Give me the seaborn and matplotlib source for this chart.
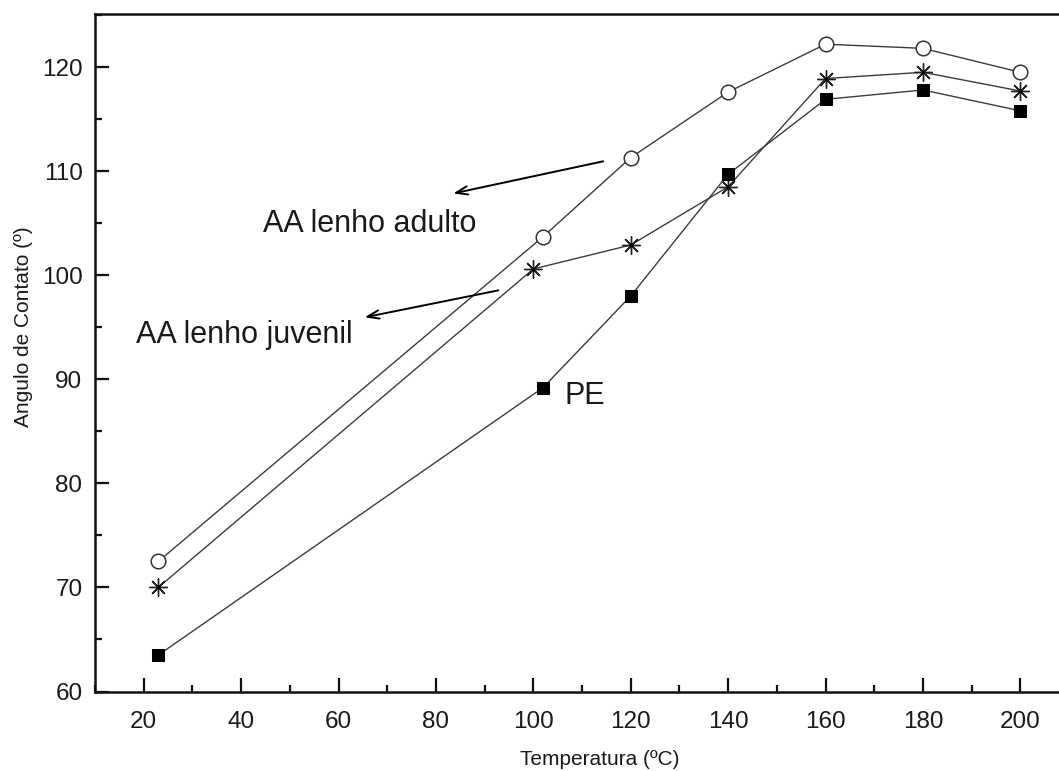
import matplotlib
matplotlib.use("Agg")
import matplotlib.pyplot as plt
from matplotlib.ticker import MultipleLocator
import seaborn as sns

# ---- data ----
temp_adulto = [23, 102, 120, 140, 160, 180, 200]
ang_adulto = [72.5, 103.7, 111.3, 117.6, 122.2, 121.8, 119.5]

temp_juvenil = [23, 100, 120, 140, 160, 180, 200]
ang_juvenil = [70.0, 100.6, 102.9, 108.5, 118.9, 119.5, 117.7]

temp_pe = [23, 102, 120, 140, 160, 180, 200]
ang_pe = [63.5, 89.2, 98.0, 109.7, 116.9, 117.8, 115.8]

x_ticks = [20, 40, 60, 80, 100, 120, 140, 160, 180, 200]
y_ticks = [60, 70, 80, 90, 100, 110, 120]

label_adulto = "AA lenho adulto"
label_juvenil = "AA lenho juvenil"
label_pe = "PE"
xlabel = "Temperatura (ºC)"
ylabel = "Angulo de Contato (º)"

sns.set_theme(style="ticks")
plt.rcParams["font.family"] = ["Liberation Sans", "DejaVu Sans"]

W, H = 1059, 771
fig = plt.figure(figsize=(W / 100, H / 100), dpi=100)
ax_left, ax_right, ax_top, ax_bottom = 95, 1070, 14, 691.5
ax = fig.add_axes([ax_left / W, (H - ax_bottom) / H,
                   (ax_right - ax_left) / W, (ax_bottom - ax_top) / H])

line_col = "#3c3c3c"
lw = 1.0

sns.lineplot(x=temp_adulto, y=ang_adulto, ax=ax, color=line_col, lw=lw,
             marker="o", markersize=10.5, markerfacecolor="white",
             markeredgecolor="#333333", markeredgewidth=1.1, zorder=3)
sns.lineplot(x=temp_juvenil, y=ang_juvenil, ax=ax, color=line_col, lw=lw,
             marker=(8, 2, 0), markersize=13, markeredgecolor="#222222",
             markeredgewidth=1.0, zorder=3)
sns.lineplot(x=temp_juvenil, y=ang_juvenil, ax=ax, color="black", lw=0,
             marker="o", markersize=2.5, markeredgewidth=0, zorder=4)
sns.lineplot(x=temp_pe, y=ang_pe, ax=ax, color=line_col, lw=lw,
             marker="s", markersize=9, markerfacecolor="black",
             markeredgecolor="black", zorder=3)

ax.set_xlim(10, 210.2)
ax.set_ylim(60, 125.1)
ax.set_xticks(x_ticks)
ax.set_yticks(y_ticks)
ax.xaxis.set_minor_locator(MultipleLocator(10))
ax.yaxis.set_minor_locator(MultipleLocator(5))
ax.tick_params(which="both", direction="in", width=1.6, color="#111111",
               top=False, right=False)
ax.tick_params(which="major", length=10, labelsize=17.5, labelcolor="#1a1a1a")
ax.tick_params(which="minor", length=5)
ax.tick_params(axis="x", which="major", pad=14)
ax.tick_params(axis="y", which="major", pad=9)

for side in ["left", "bottom", "top"]:
    ax.spines[side].set_linewidth(1.8)
    ax.spines[side].set_color("#111111")
ax.spines["right"].set_visible(False)

ax.set_xlabel(xlabel, fontsize=15, color="#1a1a1a")
ax.set_ylabel(ylabel, fontsize=15, color="#1a1a1a")
ax.xaxis.set_label_coords(0.518, -0.086)
ax.yaxis.set_label_coords(-0.064, 0.538)

# annotations
ax.annotate("", xy=(83.0, 107.8), xytext=(114.9, 111.0),
            arrowprops=dict(arrowstyle="->,head_length=0.7,head_width=0.25",
                            color="black", lw=1.4))
ax.annotate("", xy=(64.8, 95.9), xytext=(93.4, 98.6),
            arrowprops=dict(arrowstyle="->,head_length=0.7,head_width=0.25",
                            color="black", lw=1.4))
ax.text(44.4, 104.15, label_adulto, fontsize=22, ha="left", va="baseline",
        color="#1a1a1a")
ax.text(18.5, 93.5, label_juvenil, fontsize=22, ha="left", va="baseline",
        color="#1a1a1a")
ax.text(106.4, 87.65, label_pe, fontsize=22, ha="left", va="baseline",
        color="#1a1a1a")

fig.savefig("out.png", dpi=100, facecolor="white")
